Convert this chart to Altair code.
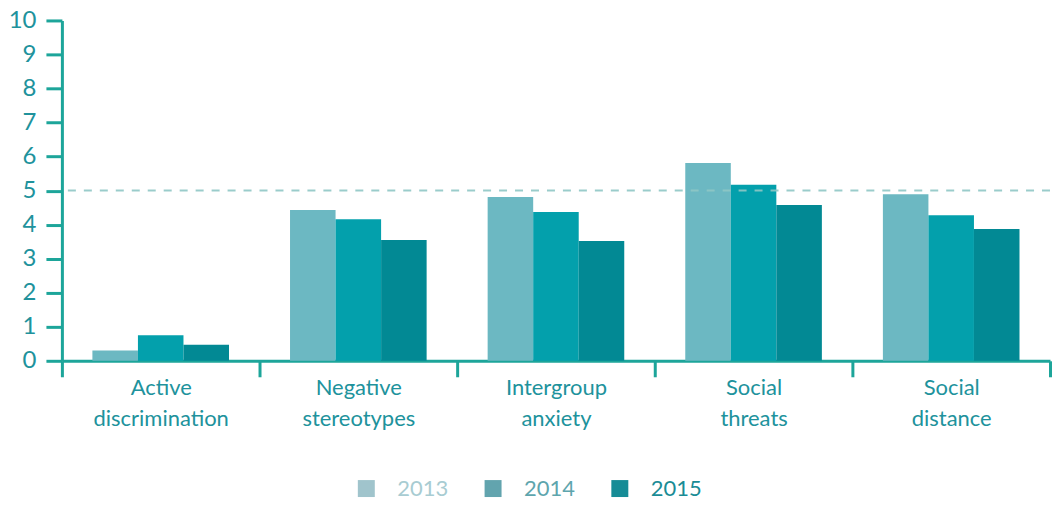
import altair as alt
import pandas as pd

categories = ["Active discrimination", "Negative stereotypes", "Intergroup anxiety",
              "Social threats", "Social distance"]
years = ["2013", "2014", "2015"]
v2013 = [0.30, 4.43, 4.81, 5.81, 4.89]
v2014 = [0.75, 4.16, 4.37, 5.17, 4.28]
v2015 = [0.47, 3.55, 3.52, 4.58, 3.87]
reference_level = 5
y_ticks = list(range(0, 11))

bar_colors = ["#6cb8c2", "#03a0ac", "#028994"]
legend_colors = ["#a0c4cc", "#62a4ae", "#168c96"]
legend_text_colors = ["#a8ccd2", "#5ea5ad", "#1a8c96"]

rows = []
for yr, vals in zip(years, [v2013, v2014, v2015]):
    for c, v in zip(categories, vals):
        rows.append({"category": c, "year": yr, "value": v})
df = pd.DataFrame(rows)

FONT = "Lato"
AXIS = "#1da59a"
TEXT = "#20929c"

fill_expr = " : ".join(
    f"datum.year == '{y}' ? '{c}'" for y, c in zip(years[:-1], bar_colors[:-1])
) + f" : '{bar_colors[-1]}'"
label_color_expr = " : ".join(
    f"datum.label == '{y}' ? '{c}'" for y, c in zip(years[:-1], legend_text_colors[:-1])
) + f" : '{legend_text_colors[-1]}'"

x_enc = alt.X("category:N", sort=categories,
              scale=alt.Scale(paddingInner=0, paddingOuter=0),
              axis=alt.Axis(title=None, labelAngle=0, labelExpr="split(datum.label, ' ')",
                            labelFontSize=22, labelColor=TEXT, labelLineHeight=31,
                            labelFont=FONT, labelPadding=1, tickSize=16, tickBand="extent",
                            tickColor=AXIS, tickWidth=3, domainColor=AXIS, domainWidth=3,
                            labelBaseline="top"))

y_axis = alt.Axis(title=None, values=y_ticks, tickCount=11, labelFontSize=24,
                  labelColor=TEXT, labelFont=FONT, tickSize=16, tickWidth=3,
                  tickColor=AXIS, domainColor=AXIS, domainWidth=3, grid=False,
                  labelPadding=10, labelOverlap=False, labelFlush=False)
y_scale = alt.Scale(domain=[0, 10], nice=False)

bars = alt.Chart(df).transform_calculate(barfill=fill_expr).mark_bar().encode(
    x=x_enc,
    xOffset=alt.XOffset("year:N", sort=years,
                        scale=alt.Scale(paddingInner=0, paddingOuter=0.67)),
    y=alt.Y("value:Q", scale=y_scale, axis=y_axis),
    fill=alt.Fill("barfill:N", scale=None),
)

legend_layer = alt.Chart(df).mark_square(size=0).encode(
    x=alt.X("category:N", sort=categories),
    color=alt.Color("year:N", scale=alt.Scale(domain=years, range=legend_colors),
                    legend=alt.Legend(title=None, orient="none", direction="horizontal",
                                      legendX=294, legendY=458,
                                      symbolType="square", symbolSize=289,
                                      symbolStrokeWidth=0, symbolOpacity=1,
                                      labelFontSize=22,
                                      labelFont=FONT, labelOffset=20, columnPadding=33,
                                      labelColor=alt.ExprRef(label_color_expr))),
)

rule = alt.Chart(pd.DataFrame({"value": [reference_level]})).mark_rule(
    color="#8fc7c5", strokeWidth=2, strokeDash=[8, 8], opacity=0.9
).encode(y=alt.Y("value:Q", scale=y_scale, axis=y_axis))

chart = alt.layer(bars, rule, legend_layer).properties(
    width=990, height=341,
    padding={"left": 0, "top": 0, "right": 0, "bottom": 0},
).configure(font=FONT).configure_view(stroke=None)

chart.save("out.html", embed_options={"renderer": "svg", "actions": False})
